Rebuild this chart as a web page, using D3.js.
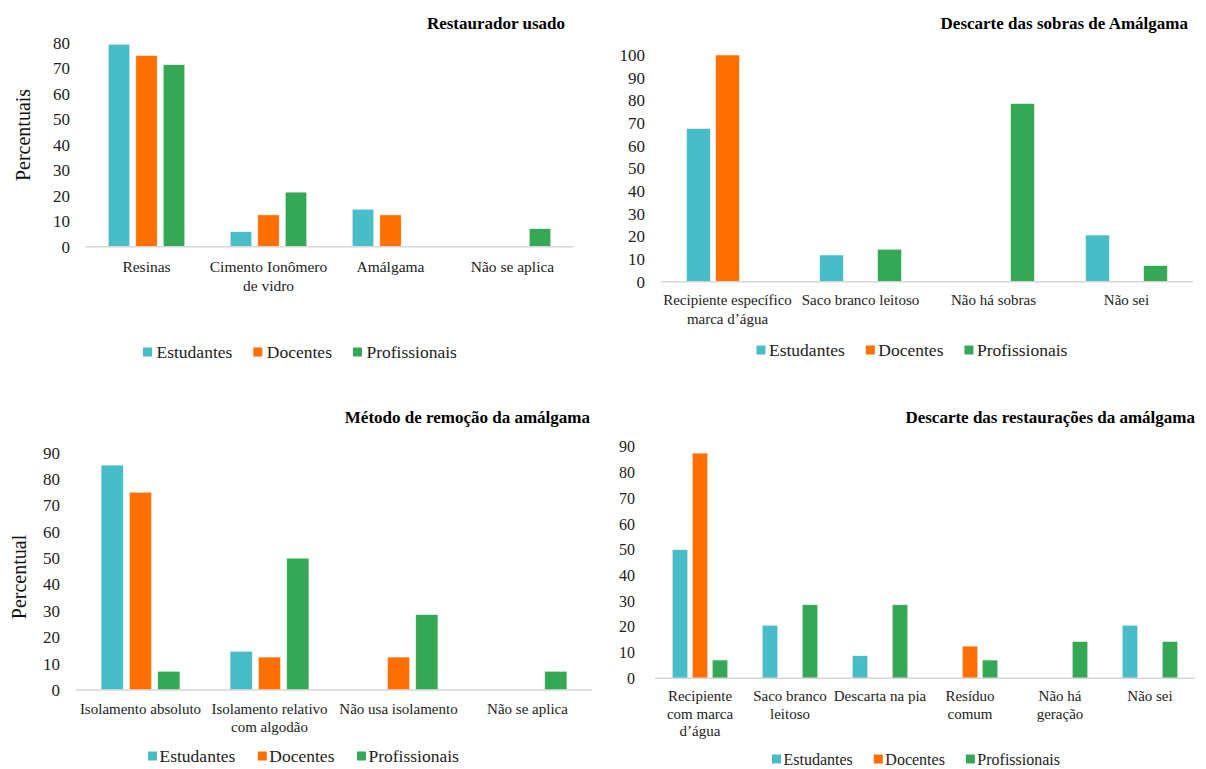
<!DOCTYPE html>
<html lang="pt">
<head>
<meta charset="utf-8">
<title>Restauradores e descarte de amálgama</title>
<script src="https://cdn.jsdelivr.net/npm/d3@7"></script>
<style>
  html, body { margin: 0; padding: 0; background: #ffffff; }
  svg text { font-family: "Liberation Serif", "Times New Roman", serif; }
</style>
</head>
<body>
<svg id="chart" width="1206" height="769"></svg>
<script>
const FONT = "'Liberation Serif', 'Times New Roman', serif";

// Grupos e cores
const series = ["Estudantes", "Docentes", "Profissionais"];
const seriesColors = ["#48bdc7", "#ff7000", "#35a855"];

// Restaurador usado (%)
const restauradorCats = ["Resinas", "Cimento Ionômero\nde vidro", "Amálgama", "Não se aplica"];
const restauradorEstudantes = [79.4, 5.9, 14.7, 0];
const restauradorDocentes = [75, 12.5, 12.5, 0];
const restauradorProfissionais = [71.4, 21.4, 0, 7.1];
const restauradorTicks = [0, 10, 20, 30, 40, 50, 60, 70, 80];

// Descarte das sobras de amálgama (%)
const sobrasCats = ["Recipiente específico\nmarca d’água", "Saco branco leitoso", "Não há sobras", "Não sei"];
const sobrasEstudantes = [67.6, 11.8, 0, 20.6];
const sobrasDocentes = [100, 0, 0, 0];
const sobrasProfissionais = [0, 14.3, 78.6, 7.1];
const sobrasTicks = [0, 10, 20, 30, 40, 50, 60, 70, 80, 90, 100];

// Método de remoção da amálgama (%)
const remocaoCats = ["Isolamento absoluto", "Isolamento relativo\ncom algodão", "Não usa isolamento", "Não se aplica"];
const remocaoEstudantes = [85.3, 14.7, 0, 0];
const remocaoDocentes = [75, 12.5, 12.5, 0];
const remocaoProfissionais = [7.1, 50, 28.6, 7.1];
const remocaoTicks = [0, 10, 20, 30, 40, 50, 60, 70, 80, 90];

// Descarte das restaurações da amálgama (%)
const restauracoesCats = ["Recipiente\ncom marca\nd’água", "Saco branco\nleitoso", "Descarta na pia", "Resíduo\ncomum", "Não há\ngeração", "Não sei"];
const restauracoesEstudantes = [50, 20.6, 8.8, 0, 0, 20.6];
const restauracoesDocentes = [87.5, 0, 0, 12.5, 0, 0];
const restauracoesProfissionais = [7.1, 28.6, 28.6, 7.1, 14.3, 14.3];
const restauracoesTicks = [0, 10, 20, 30, 40, 50, 60, 70, 80, 90];

const svg = d3.select("#chart");

function drawPanel(data, layout) {
  const g = svg.append("g").attr("font-family", FONT);

  // Scales
  const x = d3.scaleBand().domain(data.cats).range([layout.x0, layout.x1]);
  const xs = d3.scaleBand().domain(series).range([0, x.bandwidth()])
    .paddingInner(layout.pInner).paddingOuter(layout.pOuter);
  const y = d3.scaleLinear().domain([0, d3.max(data.ticks)]).range([layout.yBase, layout.yTop]);
  const color = d3.scaleOrdinal().domain(series).range(seriesColors);

  // Title
  g.append("text")
    .attr("x", layout.titleRight).attr("y", layout.titleY)
    .attr("text-anchor", "end").attr("dy", "0.35em")
    .style("font-family", FONT)
    .style("font-weight", "bold").style("font-size", "17px").attr("fill", "#000")
    .text(data.title);

  // Y axis labels (no line, no tick marks)
  const yAxis = g.append("g")
    .attr("transform", `translate(${layout.tickRight},0)`)
    .call(d3.axisLeft(y).tickValues(data.ticks).tickSize(0).tickPadding(0).tickFormat(d3.format("d")));
  yAxis.attr("font-family", FONT).attr("font-size", null);
  yAxis.select(".domain").remove();
  yAxis.selectAll("text")
    .style("font-family", FONT)
    .style("font-size", layout.tickFont + "px").attr("fill", "#222");

  if (data.yTitle) {
    g.append("text")
      .attr("transform", `translate(${layout.yTitleX},${layout.yTitleY}) rotate(-90)`)
      .attr("text-anchor", "middle").attr("dy", "0.35em")
      .style("font-family", FONT)
      .style("font-size", "20px").attr("fill", "#111")
      .text(data.yTitle);
  }

  // Bars
  const rows = data.cats.map((c, i) => ({ cat: c, vals: series.map((s, j) => ({ s, v: data.values[j][i] })) }));
  const groups = g.append("g").selectAll("g").data(rows).join("g")
    .attr("transform", d => `translate(${x(d.cat)},0)`);
  groups.selectAll("rect").data(d => d.vals.filter(e => e.v > 0)).join("rect")
    .attr("x", d => xs(d.s))
    .attr("width", xs.bandwidth())
    .attr("y", d => y(d.v))
    .attr("height", d => y(0) - y(d.v))
    .attr("fill", d => color(d.s))
    .attr("stroke", "rgba(255,255,255,0.7)")
    .attr("stroke-width", 0.8);

  // Baseline
  g.append("line")
    .attr("x1", layout.x0).attr("x2", layout.x1)
    .attr("y1", y(0)).attr("y2", y(0))
    .attr("stroke", "#d6d6d6").attr("stroke-width", 1.4);

  // Category labels, wrapped on several lines
  const labels = g.append("g").selectAll("text").data(data.cats).join("text")
    .attr("text-anchor", "middle")
    .style("font-family", FONT)
    .style("font-size", layout.catFont + "px").attr("fill", "#222");
  labels.each(function (d) {
    const t = d3.select(this);
    d.split("\n").forEach((line, k) => {
      t.append("tspan")
        .attr("x", x(d) + x.bandwidth() / 2)
        .attr("y", layout.catY + k * layout.lineH)
        .attr("dy", "0.35em")
        .text(line);
    });
  });

  // Legend
  const legend = g.append("g");
  let lx = layout.legendX;
  series.forEach((s, i) => {
    legend.append("rect")
      .attr("x", lx).attr("y", layout.legendY - 4.5)
      .attr("width", 9).attr("height", 9)
      .attr("fill", seriesColors[i]);
    const txt = legend.append("text")
      .attr("x", lx + layout.legendTextGap).attr("y", layout.legendY)
      .attr("dy", "0.35em")
      .style("font-family", FONT)
      .style("font-size", layout.legendFont + "px").attr("fill", "#222")
      .text(s);
    lx += layout.legendTextGap + txt.node().getComputedTextLength() + layout.legendGap;
  });
}

drawPanel(
  { title: "Restaurador usado", yTitle: "Percentuais", cats: restauradorCats, ticks: restauradorTicks,
    values: [restauradorEstudantes, restauradorDocentes, restauradorProfissionais] },
  { x0: 85.5, x1: 573.5, yBase: 246.7, yTop: 42.7, pInner: 0.218, pOuter: 0.827,
    tickRight: 70, tickFont: 17, yTitleX: 23, yTitleY: 135,
    titleRight: 565, titleY: 23,
    catFont: 15.5, catY: 267, lineH: 18.5,
    legendX: 143, legendY: 352, legendFont: 17.5, legendTextGap: 13.5, legendGap: 21 }
);

drawPanel(
  { title: "Descarte das sobras de Amálgama", yTitle: null, cats: sobrasCats, ticks: sobrasTicks,
    values: [sobrasEstudantes, sobrasDocentes, sobrasProfissionais] },
  { x0: 661, x1: 1193, yBase: 281.7, yTop: 55, pInner: 0.172, pOuter: 0.879,
    tickRight: 645, tickFont: 17, yTitleX: 0, yTitleY: 0,
    titleRight: 1188, titleY: 23,
    catFont: 15, catY: 300, lineH: 18.5,
    legendX: 756.5, legendY: 350, legendFont: 17.5, legendTextGap: 12.5, legendGap: 21 }
);

drawPanel(
  { title: "Método de remoção da amálgama", yTitle: "Percentual", cats: remocaoCats, ticks: remocaoTicks,
    values: [remocaoEstudantes, remocaoDocentes, remocaoProfissionais] },
  { x0: 76, x1: 592, yBase: 690, yTop: 452.7, pInner: 0.212, pOuter: 0.885,
    tickRight: 60, tickFont: 17, yTitleX: 18.5, yTitleY: 577,
    titleRight: 590, titleY: 417,
    catFont: 15, catY: 709, lineH: 17.7,
    legendX: 148, legendY: 756, legendFont: 17.5, legendTextGap: 11.5, legendGap: 22.5 }
);

drawPanel(
  { title: "Descarte das restaurações da amálgama", yTitle: null, cats: restauracoesCats, ticks: restauracoesTicks,
    values: [restauracoesEstudantes, restauracoesDocentes, restauracoesProfissionais] },
  { x0: 655, x1: 1195, yBase: 678.3, yTop: 446.7, pInner: 0.225, pOuter: 0.8625,
    tickRight: 635, tickFont: 16, yTitleX: 0, yTitleY: 0,
    titleRight: 1195, titleY: 417,
    catFont: 15, catY: 696, lineH: 17.4,
    legendX: 772, legendY: 759, legendFont: 16, legendTextGap: 11.5, legendGap: 21 }
);
</script>
</body>
</html>
